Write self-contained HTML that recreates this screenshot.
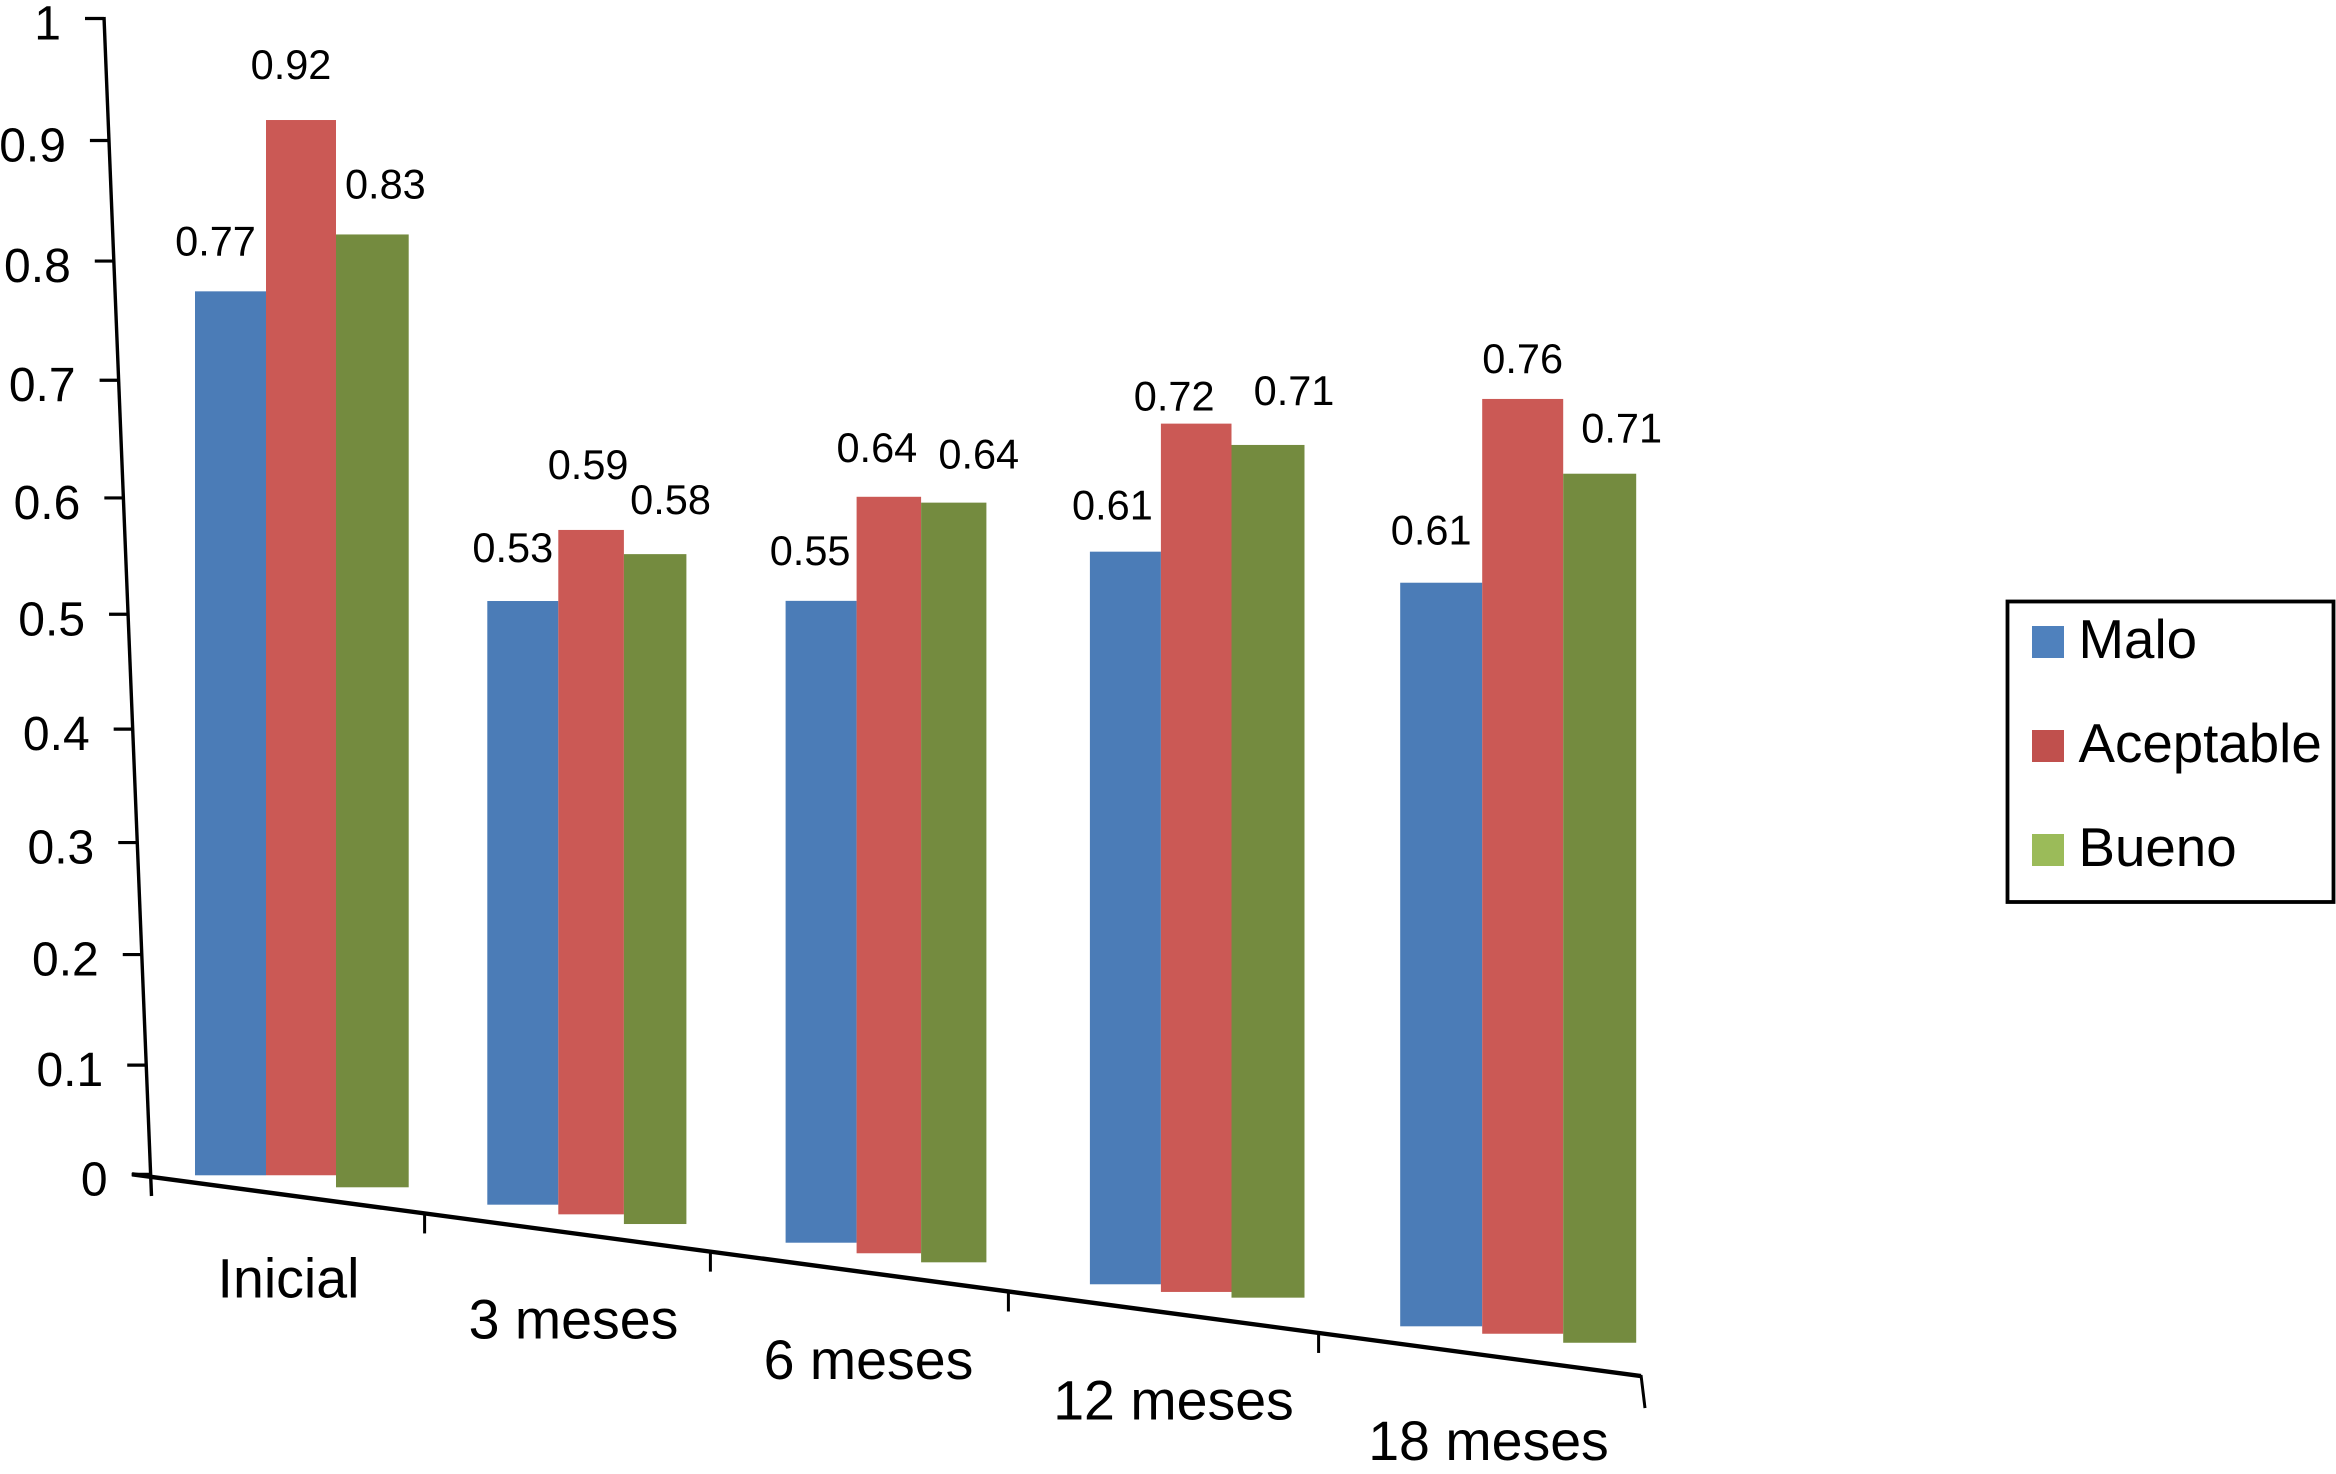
<!DOCTYPE html>
<html lang="es">
<head>
<meta charset="utf-8">
<title>Gráfico de barras por periodo</title>
<style>
  html, body { margin: 0; padding: 0; background: #ffffff; }
  #chart { display: block; width: 2336px; height: 1474px; font-family: "Liberation Sans", Arial, sans-serif; fill: #000; }
</style>
</head>
<body>
<svg id="chart" xmlns="http://www.w3.org/2000/svg" width="2336" height="1474" viewBox="0 0 2336 1474">
  <g id="bars"></g>
  <g id="value-labels"></g>
  <g id="y-axis"></g>
  <g id="x-axis"></g>
  <g>
    <rect x="2007.5" y="601.5" width="326" height="300.5" fill="#fff" stroke="#000" stroke-width="3.8"/>
    <g>
      <rect x="2032" y="626" width="32" height="32" fill="#4F81BD"/>
      <text x="2078.5" y="658" font-size="54.7">Malo</text>
    </g>
    <g>
      <rect x="2032" y="730" width="32" height="32" fill="#C0504D"/>
      <text x="2078.5" y="762" font-size="54.7">Aceptable</text>
    </g>
    <g>
      <rect x="2032" y="834" width="32" height="32" fill="#9BBB59"/>
      <text x="2078.5" y="866" font-size="54.7">Bueno</text>
    </g>
  </g>
</svg>
<script>
// ---- chart data ----
const categories = ["Inicial", "3 meses", "6 meses", "12 meses", "18 meses"];
const seriesNames = ["Malo", "Aceptable", "Bueno"];
const malo = [0.77, 0.53, 0.55, 0.61, 0.61];
const aceptable = [0.92, 0.59, 0.64, 0.72, 0.76];
const bueno = [0.83, 0.58, 0.64, 0.71, 0.71];
const yTickLabels = ["0", "0.1", "0.2", "0.3", "0.4", "0.5", "0.6", "0.7", "0.8", "0.9", "1"];

// ---- perspective layout (geometry only, no values) ----
const seriesValues = [malo, aceptable, bueno];
const barColors = ["#4B7CB7", "#CB5955", "#748B3F"];
// bar width per category depth and series (the source bars are irregular)
const slotWidths = [
  [71, 70, 72.7],
  [71, 65.6, 62.5],
  [71, 64.5, 65.3],
  [71, 70.6, 73],
  [82, 81, 73]
];
// px per 1.0 for each bar at its depth
const unitHeights = [
  [1148, 1147, 1148],
  [1139, 1160, 1155],
  [1167, 1182, 1187],
  [1201, 1206, 1201],
  [1219, 1230, 1224]
];
// correction of each bar's foot relative to the floor line
const floorTrims = [
  [3.3, -5.6, -2.3],
  [-3.8, -3, -1.5],
  [-3, -1.3, -0.3],
  [0.6, -0.6, -3.7],
  [3.9, 1.1, 0]
];
// label nudges relative to the bar top centre, [dx, dy], as hand-placed in the source chart
const labelNudges = [
  [[-15, -36], [-10, -41], [13, -36]],
  [[-10, -39], [-3, -51], [15.4, -40]],
  [[-11, -36], [-12, -35], [25, -34]],
  [[-13, -32], [-22, -13], [26, -40]],
  [[-10, -38], [0, -26], [22, -31]]
];

// ---- axis functions ----
const groupLeft = c => 195 + 289.3 * c + 3 * c * c;
function barLeft(c, s) {
  let x = groupLeft(c);
  for (let i = 0; i < s; i++) x += slotWidths[c][i];
  return x;
}
const barBottom = (x, c, s) => 1172 + 0.1248 * (x - 195) + floorTrims[c][s];
const barHeight = (c, s, v) => v * unitHeights[c][s];
const yAxisY = v => 1174.3 - 1084.4 * v - 71.4 * v * v;
const yAxisX = y => 104 + (y - 18.5) * 0.04034;
const xAxisTickX = i => 151 + 267.5 * i + 6.1 * i * i;
const xAxisY = x => 1174.3 + 0.1337 * (x - 132);
const categoryX = c => 288.5 + 280 * c + 5 * c * c;
const categoryY = c => 1297.7 + 40.6 * c;

const NS = "http://www.w3.org/2000/svg";
function make(tag, attrs, parent) {
  const el = document.createElementNS(NS, tag);
  for (const k in attrs) el.setAttribute(k, attrs[k]);
  parent.appendChild(el);
  return el;
}
const barsG = document.getElementById("bars");
const labelsG = document.getElementById("value-labels");
const yG = document.getElementById("y-axis");
const xG = document.getElementById("x-axis");

// bars and printed values
categories.forEach((cat, c) => {
  seriesValues.forEach((values, s) => {
    const v = values[c];
    const x = barLeft(c, s);
    const w = slotWidths[c][s];
    const h = barHeight(c, s, v);
    const top = barBottom(x, c, s) - h;
    const bar = make("rect", { x: x, y: top, width: w, height: h, fill: barColors[s] }, barsG);
    
    
    bar.setAttribute('aria-label', seriesNames[s] + " " + cat);
    const nudge = labelNudges[c][s];
    const label = make("text", { x: x + w / 2 + nudge[0], y: top + nudge[1], "font-size": 41.5, "text-anchor": "middle" }, labelsG);
    
    
    label.textContent = v.toFixed(2);
  });
});

// y axis
const yLine = make("line", { x1: 104, y1: 17, x2: 151.5, y2: 1196, stroke: "#000", "stroke-width": 3.4 }, yG);


yTickLabels.forEach(text => {
  const v = parseFloat(text);
  const y = yAxisY(v);
  const x = yAxisX(y);
  const tick = make("line", { x1: x - 19, y1: y, x2: x, y2: y, stroke: "#000", "stroke-width": 3.2 }, yG);
  
  
  const label = make("text", { x: x - 43, y: y + 21, "font-size": 48, "text-anchor": "end" }, yG);
  
  
  label.textContent = text;
});

// x axis
const xLine = make("line", { x1: 132, y1: xAxisY(132), x2: xAxisTickX(categories.length), y2: xAxisY(xAxisTickX(categories.length)), stroke: "#000", "stroke-width": 4.4 }, xG);


for (let i = 1; i < categories.length; i++) {
  const tx = xAxisTickX(i);
  const ty = xAxisY(tx);
  const tick = make("line", { x1: tx, y1: ty, x2: tx, y2: ty + 20, stroke: "#000", "stroke-width": 3 }, xG);
  
  
}
const endX = xAxisTickX(categories.length);
const endTick = make("line", { x1: endX, y1: xAxisY(endX) - 1, x2: endX + 4, y2: xAxisY(endX) + 32, stroke: "#000", "stroke-width": 3 }, xG);


categories.forEach((cat, c) => {
  const label = make("text", { x: categoryX(c), y: categoryY(c), "font-size": 55.5, "text-anchor": "middle" }, xG);
  
  
  label.textContent = cat;
});
</script>
</body>
</html>
